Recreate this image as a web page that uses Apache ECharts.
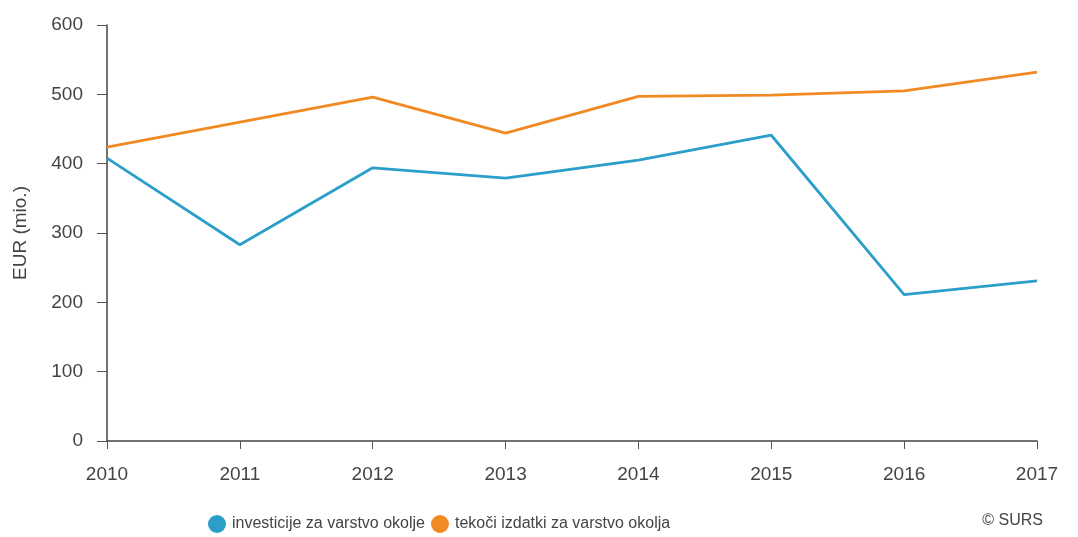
<!DOCTYPE html>
<html><head><meta charset="utf-8">
<script src="https://cdn.jsdelivr.net/npm/echarts@6/dist/echarts.min.js"></script>
<style>html,body{margin:0;padding:0;background:#fff}#c{width:1078px;height:537px}</style>
</head><body><div id="c"></div>
<script>
const years = ['2010','2011','2012','2013','2014','2015','2016','2017'];
const investicije = [408, 283, 394, 379, 405, 441, 211, 231];
const tekoci = [424, 460, 496, 444, 497, 499, 505, 532];
const seriesNames = ['investicije za varstvo okolje', 'tekoči izdatki za varstvo okolja'];
const yTitle = 'EUR (mio.)';
const credit = '© SURS';

const chart = echarts.init(document.getElementById('c'), null, {renderer:'canvas'});
const txt = '#444';
const font = 'Liberation Sans, Arial, sans-serif';
chart.setOption({
  animation:false,
  backgroundColor:'#fff',
  textStyle:{fontFamily:font},
  grid:{left:107,right:41,top:25,bottom:96,containLabel:false},
  legend:{
    top:510,left:203,
    icon:'circle',itemWidth:18,itemHeight:18,itemGap:6,
    textStyle:{color:txt,fontSize:16,fontFamily:font,padding:[0,0,0,1]},
    data:seriesNames
  },
  graphic:[{type:'text',right:35,top:513,style:{text:credit,fill:txt,font:'16px '+font}}],
  xAxis:{
    type:'category',data:years,boundaryGap:false,
    axisLine:{lineStyle:{color:'#444',width:1.5}},
    axisTick:{alignWithLabel:true,length:8,lineStyle:{color:'#555'}},
    axisLabel:{color:txt,fontSize:19,margin:24}
  },
  yAxis:{
    type:'value',min:0,max:600,interval:100,
    name:yTitle,nameLocation:'middle',nameGap:77,nameRotate:90,
    nameTextStyle:{color:txt,fontSize:19},
    axisLine:{show:true,lineStyle:{color:'#444',width:1.5}},
    axisTick:{show:true,length:10,lineStyle:{color:'#555'}},
    axisLabel:{color:txt,fontSize:19,margin:24},
    splitLine:{show:false}
  },
  series:[
    {name:seriesNames[0],type:'line',data:investicije,showSymbol:false,symbol:'circle',
     itemStyle:{color:'#2b9fc9'},lineStyle:{color:'#2b9fc9',width:2.8}},
    {name:seriesNames[1],type:'line',data:tekoci,showSymbol:false,symbol:'circle',
     itemStyle:{color:'#f28a24'},lineStyle:{color:'#f28a24',width:2.8}}
  ]
});
</script></body></html>
